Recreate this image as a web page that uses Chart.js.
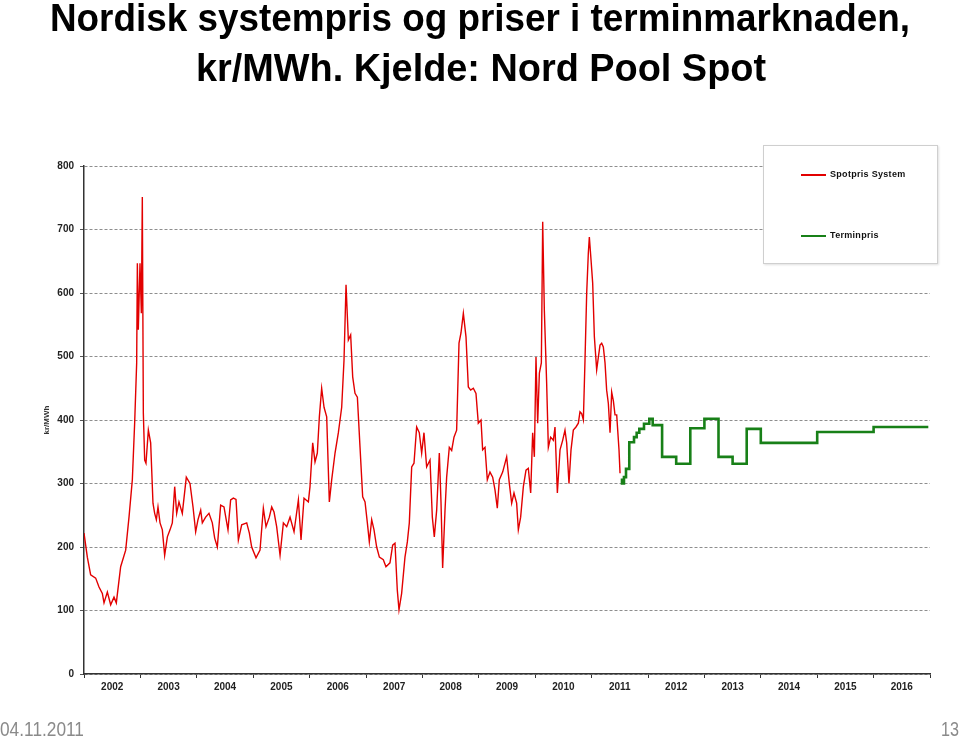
<!DOCTYPE html>
<html>
<head>
<meta charset="utf-8">
<script src="https://cdn.jsdelivr.net/npm/chart.js@4.4.0/dist/chart.umd.min.js"></script>
<style>
  html, body { margin: 0; padding: 0; background: #fff; }
  #page { position: relative; width: 960px; height: 736px; overflow: hidden; }
  #chart { position: absolute; left: 0; top: 0; }
  .fit { position: absolute; white-space: nowrap; transform-origin: 0 0; }
  .title { font-family: "Liberation Sans", Arial, sans-serif; font-weight: bold; font-size: 38px; line-height: 38px; color: #000; }
  .foot { font-family: "Liberation Sans", Arial, sans-serif; font-size: 20px; line-height: 20px; color: #8a8a8a; }
  #legend { position: absolute; left: 763px; top: 145px; width: 173px; height: 117px; background: #fff;
            border: 1px solid #cfcfcf; box-shadow: 1px 1px 2px rgba(0,0,0,0.12); }
  .sw { position: absolute; left: 37px; width: 25px; height: 2px; }
  .lt { position: absolute; left: 66px; font: bold 9px "Liberation Sans", Arial, sans-serif; letter-spacing: 0.3px; color: #111; white-space: nowrap; }
</style>
</head>
<body>
<div id="page">
  <canvas id="chart" width="960" height="736"></canvas>
  <div class="fit title" data-left="50" data-w="860" style="top:-1px">Nordisk systempris og priser i terminmarknaden,</div>
  <div class="fit title" data-left="196" data-w="570" style="top:49px">kr/MWh. Kjelde: Nord Pool Spot</div>
  <div class="fit foot" data-left="0" data-w="84" style="top:719px">04.11.2011</div>
  <div class="fit foot" data-left="941" data-w="18" style="top:719px">13</div>
  <div id="legend"></div>
</div>
<script>
// spot price, weekly-ish readings (fractional year, kr/MWh)
const spotYears = [
  2002.000, 2002.059, 2002.118, 2002.207, 2002.266, 2002.325, 2002.355, 2002.414, 2002.473, 2002.532,
  2002.573, 2002.650, 2002.739, 2002.798, 2002.857, 2002.898, 2002.934, 2002.946, 2002.963, 2002.993,
  2003.017, 2003.034, 2003.052, 2003.076, 2003.099, 2003.141, 2003.182, 2003.223, 2003.253, 2003.283,
  2003.312, 2003.348, 2003.389, 2003.430, 2003.478, 2003.525, 2003.566, 2003.608, 2003.643, 2003.684,
  2003.743, 2003.814, 2003.879, 2003.933, 2003.980, 2004.021, 2004.069, 2004.098, 2004.157, 2004.216,
  2004.275, 2004.317, 2004.364, 2004.423, 2004.482, 2004.553, 2004.600, 2004.648, 2004.695, 2004.737,
  2004.796, 2004.885, 2004.932, 2004.973, 2005.050, 2005.121, 2005.180, 2005.227, 2005.286, 2005.328,
  2005.369, 2005.416, 2005.476, 2005.535, 2005.594, 2005.653, 2005.724, 2005.801, 2005.848, 2005.901,
  2005.978, 2006.007, 2006.055, 2006.096, 2006.137, 2006.173, 2006.214, 2006.256, 2006.303, 2006.350,
  2006.392, 2006.451, 2006.510, 2006.569, 2006.610, 2006.646, 2006.687, 2006.728, 2006.764, 2006.805,
  2006.847, 2006.894, 2006.941, 2006.983, 2007.024, 2007.059, 2007.101, 2007.142, 2007.189, 2007.237,
  2007.307, 2007.354, 2007.425, 2007.473, 2007.514, 2007.555, 2007.585, 2007.632, 2007.691, 2007.733,
  2007.768, 2007.810, 2007.851, 2007.898, 2007.945, 2007.987, 2008.028, 2008.075, 2008.135, 2008.176,
  2008.211, 2008.253, 2008.300, 2008.330, 2008.359, 2008.401, 2008.430, 2008.477, 2008.519, 2008.560,
  2008.607, 2008.649, 2008.684, 2008.726, 2008.773, 2008.814, 2008.856, 2008.903, 2008.950, 2008.991,
  2009.039, 2009.068, 2009.110, 2009.151, 2009.198, 2009.246, 2009.287, 2009.328, 2009.364, 2009.423,
  2009.494, 2009.541, 2009.583, 2009.624, 2009.671, 2009.701, 2009.742, 2009.790, 2009.837, 2009.878,
  2009.920, 2009.955, 2009.985, 2010.014, 2010.044, 2010.074, 2010.109, 2010.133, 2010.162, 2010.203,
  2010.233, 2010.274, 2010.322, 2010.351, 2010.393, 2010.440, 2010.487, 2010.528, 2010.558, 2010.599,
  2010.635, 2010.676, 2010.723, 2010.765, 2010.794, 2010.824, 2010.854, 2010.883, 2010.913, 2010.942,
  2010.960, 2010.990, 2011.019, 2011.049, 2011.090, 2011.120, 2011.149, 2011.179, 2011.208, 2011.238,
  2011.267, 2011.297, 2011.327, 2011.356, 2011.386, 2011.415, 2011.445, 2011.486, 2011.504
];
const spotPrices = [
  222, 184, 156, 151, 137, 127, 112, 129, 109, 121,
  112, 169, 195, 247, 306, 395, 490, 647, 542, 647,
  568, 751, 411, 337, 332, 384, 364, 269, 253, 243,
  263, 238, 227, 187, 216, 227, 238, 295, 253, 271,
  253, 310, 300, 263, 224, 243, 258, 238, 247, 253,
  238, 214, 200, 266, 263, 227, 274, 277, 275, 211,
  235, 238, 222, 200, 183, 195, 261, 232, 247, 263,
  255, 232, 187, 238, 232, 247, 224, 274, 211, 277,
  271, 295, 364, 334, 348, 405, 450, 420, 405, 271,
  306, 348, 380, 420, 494, 613, 526, 534, 468, 442,
  436, 357, 279, 271, 238, 208, 243, 227, 200, 184,
  180, 169, 175, 203, 206, 132, 101, 127, 184, 208,
  238, 326, 332, 389, 380, 348, 380, 326, 337, 247,
  216, 258, 348, 270, 167, 258, 310, 357, 352, 373,
  384, 521, 537, 568, 531, 452, 447, 450, 442, 395,
  400, 353, 357, 306, 318, 310, 290, 261, 306, 318,
  342, 300, 269, 285, 269, 227, 247, 295, 321, 324,
  285, 380, 342, 499, 395, 474, 490, 712, 573, 458,
  357, 373, 368, 389, 285, 353, 368, 384, 364, 300,
  353, 384, 389, 395, 413, 410, 400, 494, 600, 663,
  688, 652, 616, 531, 479, 499, 518, 521, 515, 490,
  447, 426, 380, 444, 430, 408, 408, 353, 316
];

// forward prices, each value holds until the next date
const terminYears = [
  2011.516, 2011.539, 2011.574, 2011.610, 2011.668, 2011.752, 2011.799, 2011.846, 2011.929, 2012.023,
  2012.083, 2012.25, 2012.50, 2012.75, 2013.00, 2013.25, 2013.50, 2013.75, 2014.00, 2015.00,
  2016.00, 2016.97
];
const terminPrices = [
  306, 300, 310, 323, 365, 373, 380, 386, 394, 402,
  392, 342, 331, 387, 402, 342, 331, 386, 364, 381,
  389, 389
];

const seriesNames = ['Spotpris System', 'Terminpris'];
const seriesColors = ['rgb(226,0,0)', 'rgb(24,128,24)'];
const yTicks = [0, 100, 200, 300, 400, 500, 600, 700, 800];
const firstYear = 2002, lastYear = 2017;

function toPoints(xs, ys) {
  return xs.map((x, i) => ({ x: x, y: ys[i] }));
}

const ctx = document.getElementById('chart').getContext('2d');
const chart = new Chart(ctx, {
  type: 'line',
  data: {
    datasets: [{
      label: seriesNames[0],
      data: toPoints(spotYears, spotPrices),
      borderColor: seriesColors[0],
      borderWidth: 1.4,
      pointRadius: 0,
      tension: 0
    }, {
      label: seriesNames[1],
      data: toPoints(terminYears, terminPrices),
      borderColor: seriesColors[1],
      borderWidth: 2.6,
      pointRadius: 0,
      stepped: 'before'   // hold previous value, then jump
    }]
  },
  options: {
    responsive: false,
    devicePixelRatio: 1,
    animation: false,
    layout: { padding: { top: 166, left: 0, right: 30, bottom: 22 } },
    plugins: { legend: { display: false }, tooltip: { enabled: false } },
    scales: {
      x: {
        type: 'linear',
        min: firstYear,
        max: lastYear,
        afterFit: s => { s.height = 40; },
        afterBuildTicks: s => {
          const t = [];
          for (let v = firstYear; v <= lastYear; v += 0.5) t.push({ value: v });
          s.ticks = t;
        },
        ticks: {
          autoSkip: false,
          maxRotation: 0,
          padding: 3,
          color: '#222',
          font: { family: 'Arial, "Liberation Sans", sans-serif', size: 10, weight: 'bold' },
          callback: v => (v % 1 === 0.5 ? String(Math.floor(v)) : '')
        },
        grid: {
          drawOnChartArea: false,
          tickLength: 4,
          tickColor: c => (c.tick && c.tick.value % 1 === 0 ? '#333' : 'rgba(0,0,0,0)')
        },
        border: { color: '#333', width: 1.5 }
      },
      y: {
        min: 0,
        max: 800,
        afterFit: s => { s.width = 84; },
        afterBuildTicks: s => { s.ticks = yTicks.map(v => ({ value: v })); },
        ticks: {
          padding: 6,
          color: '#222',
          font: { family: 'Arial, "Liberation Sans", sans-serif', size: 10, weight: 'bold' }
        },
        grid: { color: '#8e8e8e', lineWidth: 1, tickLength: 4, tickColor: '#555' },
        border: { color: '#333', width: 1.5, dash: [3, 2] },
        title: {
          display: true,
          text: 'kr/MWh',
          color: '#333',
          padding: { top: 42, bottom: 0 },
          font: { family: 'Arial, "Liberation Sans", sans-serif', size: 8, weight: 'bold' }
        }
      }
    }
  }
});

// legend box, built from the datasets
const legend = document.getElementById('legend');
const rowTops = [29, 90];
chart.data.datasets.forEach((ds, i) => {
  const sw = document.createElement('div');
  sw.className = 'sw';
  sw.style.top = (rowTops[i] - 1) + 'px';
  sw.style.background = ds.borderColor;
  legend.appendChild(sw);
  const lt = document.createElement('div');
  lt.className = 'lt';
  lt.style.top = (rowTops[i] - 6) + 'px';
  lt.textContent = ds.label;
  legend.appendChild(lt);
});

// squeeze the slide texts to the width they take in the original
document.querySelectorAll('.fit').forEach(el => {
  el.style.left = el.dataset.left + 'px';
  const w = el.getBoundingClientRect().width;
  el.style.transform = 'scaleX(' + (el.dataset.w / w) + ')';
});
</script>
</body>
</html>
